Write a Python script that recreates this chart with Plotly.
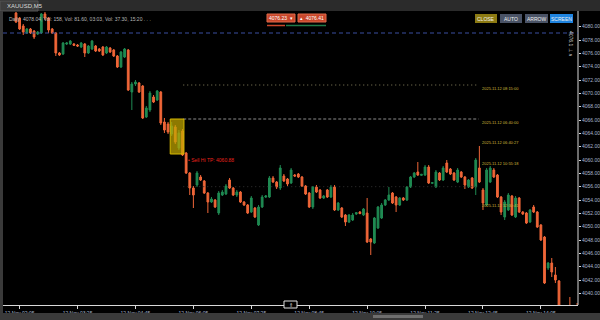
import plotly.graph_objects as go

# ---------------- data (XAUUSD, M5) ----------------
opens = [4082.05, 4081.3, 4080.1, 4079.05, 4079.65, 4079.35, 4078.9, 4079.05, 4081.9, 4081.3,
         4079.65, 4079.05, 4076.05, 4075.9, 4077.4, 4077.4, 4077.4, 4077.25, 4076.95, 4077.4,
         4076.05, 4076.65, 4077.1, 4076.65, 4076.95, 4076.05, 4076.8, 4076.5, 4075.6, 4073.95,
         4075.45, 4076.5, 4070.2, 4071.4, 4071.55, 4071.1, 4066.45, 4067.5, 4069.45, 4069.0,
         4070.2, 4065.7, 4065.4, 4063.9, 4064.95, 4061.8, 4064.35, 4061.05, 4058.05, 4055.8,
         4056.25, 4057.45, 4056.85, 4055.05, 4053.7, 4054.0, 4052.05, 4054.75, 4054.9, 4057.0,
         4055.8, 4054.75, 4055.2, 4053.7, 4053.25, 4052.2, 4052.8, 4050.25, 4052.95, 4054.45,
         4054.45, 4057.3, 4056.7, 4055.8, 4057.6, 4057.15, 4056.55, 4057.75, 4057.9, 4057.45,
         4056.1, 4055.05, 4052.95, 4055.95, 4055.5, 4054.3, 4055.5, 4054.45, 4055.95, 4052.5,
         4052.8, 4051.75, 4050.7, 4051.0, 4051.9, 4052.2, 4051.75, 4052.05, 4048.15, 4047.55,
         4049.8, 4051.3, 4053.25, 4054.0, 4055.05, 4054.45, 4053.25, 4054.3, 4054.0, 4055.95,
         4057.45, 4058.2, 4057.7, 4057.75, 4058.95, 4056.5, 4055.95, 4058.05, 4057.0, 4059.55,
         4058.65, 4058.05, 4056.7, 4058.2, 4057.45, 4055.95, 4057.3, 4055.95, 4058.8, 4055.5,
         4053.25, 4056.7, 4058.5, 4057.75, 4054.45, 4051.45, 4052.5, 4054.6, 4051.45, 4054.3,
         4052.2, 4052.05, 4050.7, 4052.95, 4052.2, 4050.25, 4048.45, 4043.8, 4044.55, 4042.75,
         4041.85, 4037.2, 4036.3, 4037.5, 4036.3, 4036.9]

highs = [4082.2, 4081.45, 4080.4, 4079.8, 4079.8, 4079.5, 4079.35, 4082.05, 4082.2, 4081.45,
         4079.8, 4079.2, 4076.2, 4077.7, 4077.7, 4078.0, 4077.55, 4077.4, 4077.7, 4077.55,
         4077.25, 4078.0, 4077.25, 4076.8, 4077.1, 4077.1, 4076.95, 4076.65, 4075.75, 4076.35,
         4076.8, 4076.65, 4071.7, 4072.0, 4071.7, 4071.25, 4068.1, 4070.35, 4069.75, 4070.5,
         4070.35, 4066.3, 4065.7, 4065.7, 4065.25, 4064.5, 4064.65, 4061.2, 4058.2, 4056.1,
         4058.35, 4057.75, 4057.0, 4055.2, 4054.45, 4054.15, 4055.35, 4055.5, 4056.4, 4057.3,
         4055.95, 4055.5, 4055.35, 4053.85, 4053.4, 4054.6, 4052.95, 4053.25, 4054.75, 4054.75,
         4057.6, 4057.6, 4056.85, 4059.25, 4057.9, 4057.3, 4058.8, 4057.9, 4058.05, 4057.6,
         4056.25, 4055.2, 4056.1, 4056.25, 4055.65, 4054.75, 4055.65, 4056.25, 4056.25, 4053.7,
         4052.95, 4051.9, 4051.9, 4052.05, 4052.2, 4052.35, 4052.8, 4054.3, 4048.3, 4051.45,
         4053.1, 4053.55, 4054.15, 4055.95, 4055.2, 4054.6, 4054.45, 4054.45, 4056.1, 4057.6,
         4058.2, 4059.7, 4057.9, 4059.25, 4059.25, 4056.7, 4058.5, 4058.2, 4059.1, 4060.0,
         4058.8, 4058.2, 4058.8, 4058.35, 4057.6, 4057.15, 4057.45, 4060.3, 4062.1, 4055.8,
         4058.8, 4059.1, 4058.8, 4057.9, 4054.6, 4054.0, 4055.05, 4054.75, 4054.6, 4054.45,
         4052.35, 4052.2, 4052.65, 4053.25, 4052.35, 4050.4, 4048.6, 4044.7, 4045.3, 4043.95,
         4042.0, 4037.35, 4037.5, 4039.45, 4037.2, 4038.55]

lows = [4080.55, 4079.5, 4078.75, 4078.9, 4078.9, 4078.15, 4078.75, 4078.9, 4081.0, 4079.05,
        4078.9, 4075.6, 4075.6, 4075.75, 4077.25, 4077.25, 4077.1, 4076.95, 4076.8, 4075.45,
        4075.9, 4076.5, 4076.2, 4076.2, 4075.6, 4075.9, 4076.05, 4075.45, 4073.8, 4073.8,
        4075.3, 4070.35, 4067.5, 4071.1, 4070.05, 4066.15, 4066.3, 4067.2, 4068.55, 4068.85,
        4065.25, 4064.05, 4063.9, 4063.6, 4062.4, 4061.5, 4060.6, 4057.9, 4054.75, 4052.8,
        4055.95, 4056.85, 4054.9, 4052.05, 4053.55, 4052.8, 4051.75, 4054.6, 4054.75, 4055.65,
        4054.6, 4054.45, 4053.55, 4053.1, 4051.9, 4052.05, 4051.3, 4050.1, 4052.8, 4054.3,
        4054.3, 4056.55, 4055.65, 4055.5, 4056.7, 4056.1, 4056.4, 4057.45, 4057.3, 4055.95,
        4054.75, 4052.8, 4052.65, 4055.05, 4054.15, 4054.15, 4054.3, 4054.3, 4052.35, 4052.35,
        4051.3, 4050.1, 4050.55, 4050.85, 4051.75, 4051.9, 4051.6, 4047.55, 4045.75, 4047.4,
        4049.65, 4051.15, 4053.1, 4053.85, 4053.4, 4052.2, 4053.1, 4053.85, 4053.85, 4055.8,
        4057.3, 4057.6, 4057.6, 4057.6, 4056.4, 4056.4, 4055.8, 4056.85, 4056.85, 4058.05,
        4057.75, 4056.85, 4056.55, 4057.3, 4055.65, 4055.8, 4055.65, 4054.75, 4056.55, 4052.5,
        4053.1, 4056.55, 4057.3, 4054.3, 4051.75, 4051.0, 4052.35, 4051.6, 4051.3, 4052.05,
        4051.75, 4050.4, 4050.55, 4052.05, 4049.8, 4047.85, 4041.4, 4043.5, 4042.45, 4041.55,
        4037.2, 4035.7, 4034.8, 4035.25, 4034.2, 4034.5]

closes = [4080.7, 4079.65, 4079.2, 4079.65, 4079.05, 4078.45, 4079.2, 4081.9, 4081.3, 4079.5,
          4079.05, 4076.05, 4075.75, 4077.55, 4077.55, 4077.85, 4077.2, 4077.1, 4077.55, 4076.05,
          4077.1, 4077.85, 4076.35, 4076.35, 4075.75, 4076.95, 4076.2, 4075.6, 4073.95, 4076.2,
          4076.65, 4070.5, 4071.4, 4071.7, 4070.2, 4066.3, 4067.8, 4070.05, 4068.7, 4070.35,
          4065.55, 4064.5, 4064.2, 4065.1, 4062.7, 4064.05, 4060.75, 4058.05, 4055.8, 4054.75,
          4058.05, 4057.0, 4055.05, 4053.7, 4054.15, 4052.95, 4055.05, 4055.2, 4056.1, 4055.8,
          4054.75, 4055.2, 4053.7, 4053.25, 4052.05, 4054.3, 4051.45, 4052.95, 4054.45, 4054.6,
          4057.3, 4056.7, 4055.95, 4058.8, 4056.85, 4056.4, 4058.5, 4057.6, 4057.45, 4056.1,
          4054.9, 4052.95, 4055.95, 4055.2, 4054.3, 4054.6, 4054.45, 4055.95, 4052.5, 4053.55,
          4051.45, 4050.7, 4051.75, 4051.75, 4052.1, 4051.95, 4052.65, 4047.7, 4047.7, 4051.3,
          4052.95, 4053.25, 4054.0, 4054.75, 4053.55, 4053.25, 4054.3, 4054.0, 4055.95, 4057.45,
          4058.05, 4057.75, 4057.85, 4058.95, 4056.55, 4056.6, 4058.2, 4057.0, 4058.8, 4058.2,
          4057.9, 4057.0, 4058.5, 4057.45, 4056.25, 4057.0, 4055.8, 4060.0, 4056.7, 4053.55,
          4058.5, 4058.8, 4057.45, 4054.45, 4052.2, 4053.7, 4054.75, 4051.75, 4054.3, 4052.2,
          4051.9, 4050.55, 4052.5, 4052.2, 4049.95, 4048.0, 4041.55, 4044.55, 4043.2, 4042.0,
          4037.5, 4036.0, 4035.1, 4035.7, 4034.5, 4034.8]

bar_index = list(range(len(opens)))

x_tick_index = [1, 17, 33, 49, 65, 81, 97, 113, 129, 145]
x_tick_text = ["12 Nov 02:05", "12 Nov 03:25", "12 Nov 04:45", "12 Nov 06:05", "12 Nov 07:25",
               "12 Nov 08:45", "12 Nov 10:05", "12 Nov 11:25", "12 Nov 12:45", "12 Nov 14:05"]

y_tick_vals = [4040, 4042, 4044, 4046, 4048, 4050, 4052, 4054, 4056, 4058, 4060,
               4062, 4064, 4066, 4068, 4070, 4072, 4074, 4076, 4078, 4080]
y_tick_text = ["%.2f" % v for v in y_tick_vals]

level_blue = 4079.05          # dashed blue line
level_lines = [4071.25, 4066.15, 4056.0]
level_label_prices = [4070.7, 4065.6, 4062.6, 4059.45, 4053.15]
level_label_text = ["2025.11.12 08:15:00", "2025.11.12 06:40:00", "2025.11.12 06:40:27",
                    "2025.11.12 10:55:18", "2025.11.12 12:30:41"]
zone_x = [42.6, 46.4]
zone_y = [4060.9, 4066.15]
sell_label_price = 4060.0
sell_label_text = "\u2022 Sell Hi TP: 4060.88"

# ---------------- layout geometry ----------------
W, H = 600, 320
ML, MR, MT, MB = 3, 22, 12, 15
PW, PH = W - ML - MR, H - MT - MB


def fx(px):
    return (px - ML) / PW


def fy(py):
    return (H - MB - py) / PH


UP = "#1f8a52"
DN = "#ef6638"
FONT = "Liberation Sans"

fig = go.Figure()
fig.add_trace(go.Candlestick(
    x=bar_index, open=opens, high=highs, low=lows, close=closes,
    increasing=dict(line=dict(color=UP, width=1), fillcolor=UP),
    decreasing=dict(line=dict(color=DN, width=1), fillcolor=DN),
    whiskerwidth=0, hoverinfo="skip", showlegend=False,
))

shapes = []
ann = []

# chrome: top bar, tab, left strip, bottom bar, scrollbar
shapes.append(dict(type="rect", xref="paper", yref="paper", x0=fx(0), x1=fx(600), y0=fy(11), y1=fy(0),
                   fillcolor="#2b2b2b", line=dict(width=0), layer="above"))
shapes.append(dict(type="rect", xref="paper", yref="paper", x0=fx(0), x1=fx(38), y0=fy(11), y1=fy(1),
                   fillcolor="#3d3d3d", line=dict(color="#555555", width=1), layer="above"))
ann.append(dict(xref="paper", yref="paper", x=fx(5), y=fy(6), text="XAUUSD,M5", showarrow=False,
                xanchor="left", yanchor="middle", font=dict(family=FONT, size=6, color="#d8d8d8")))
shapes.append(dict(type="rect", xref="paper", yref="paper", x0=fx(0), x1=fx(3), y0=fy(320), y1=fy(11),
                   fillcolor="#3a3a3a", line=dict(width=0), layer="above"))
shapes.append(dict(type="rect", xref="paper", yref="paper", x0=fx(0), x1=fx(600), y0=fy(320), y1=fy(313),
                   fillcolor="#3a3a3a", line=dict(width=0), layer="above"))
shapes.append(dict(type="rect", xref="paper", yref="paper", x0=fx(373), x1=fx(423), y0=fy(318), y1=fy(315),
                   fillcolor="#6e6e6e", line=dict(width=0), layer="above"))
# right axis vertical line
shapes.append(dict(type="line", xref="paper", yref="paper", x0=fx(578), x1=fx(578), y0=fy(305), y1=fy(11),
                   line=dict(color="#d8d8d8", width=1), layer="above"))

# header text
ann.append(dict(xref="paper", yref="paper", x=fx(7), y=fy(19),
                text="Daily  4078.04, Vol: 158, Vol: 81.60, 03:03, Vol: 37.30, 15:20 . . .",
                showarrow=False, xanchor="left", yanchor="middle",
                font=dict(family=FONT, size=5, color="#b8b8b8")))

# top center buttons
for x0, x1, txt in [(267, 295, "4076.23  \u25be"), (298, 326, "\u25b4  4076.41")]:
    shapes.append(dict(type="rect", xref="paper", yref="paper", x0=fx(x0), x1=fx(x1), y0=fy(22), y1=fy(14),
                       fillcolor="#c9472b", line=dict(color="#e06a4a", width=1), layer="above"))
    ann.append(dict(xref="paper", yref="paper", x=fx((x0 + x1) / 2), y=fy(18), text=txt, showarrow=False,
                    xanchor="center", yanchor="middle", font=dict(family=FONT, size=5, color="#ffffff")))
shapes.append(dict(type="line", xref="paper", yref="paper", x0=fx(267), x1=fx(285), y0=fy(25.5), y1=fy(25.5),
                   line=dict(color="#c9472b", width=1.5), layer="above"))
shapes.append(dict(type="line", xref="paper", yref="paper", x0=fx(286), x1=fx(326), y0=fy(25.5), y1=fy(25.5),
                   line=dict(color="#1f7a48", width=1.5), layer="above"))

# top right buttons
for x0, x1, col, txt in [(475, 497, "#8c7a12", "CLOSE"), (500, 522, "#4a5366", "AUTO"),
                         (525, 548, "#4a5366", "ARROW"), (550, 573, "#1f84e0", "SCREEN")]:
    shapes.append(dict(type="rect", xref="paper", yref="paper", x0=fx(x0), x1=fx(x1), y0=fy(23), y1=fy(14),
                       fillcolor=col, line=dict(width=0), layer="above"))
    ann.append(dict(xref="paper", yref="paper", x=fx((x0 + x1) / 2), y=fy(18.5), text=txt, showarrow=False,
                    xanchor="center", yanchor="middle", font=dict(family=FONT, size=5, color="#f0f0f0")))

# vertical text near right edge
ann.append(dict(xref="paper", yref="paper", x=fx(571), y=fy(44), text="4076.1 \u22a5 \u2227", showarrow=False,
                textangle=90, xanchor="center", yanchor="middle",
                font=dict(family=FONT, size=5, color="#d0d0d0")))

# blue dashed line
shapes.append(dict(type="line", xref="paper", yref="y", x0=0, x1=1, y0=level_blue, y1=level_blue,
                   line=dict(color="#3a4fa0", width=1, dash="4px,3px")))

# dotted level lines
lvl_styles = [("#8a8460", "1px,3px"), ("#8c8c8c", "3px,2px"), ("#333333", "1px,3px")]
for lv, (col, dsh) in zip(level_lines, lvl_styles):
    shapes.append(dict(type="line", xref="x", yref="y", x0=46.2, x1=127.8, y0=lv, y1=lv,
                       line=dict(color=col, width=1, dash=dsh)))
for p, t in zip(level_label_prices, level_label_text):
    ann.append(dict(xref="x", yref="y", x=128.3, y=p, text=t, showarrow=False, xanchor="left",
                    yanchor="middle", font=dict(family=FONT, size=4, color="#d0b83a")))

# yellow zone
shapes.append(dict(type="rect", xref="x", yref="y", x0=zone_x[0], x1=zone_x[1], y0=zone_y[0], y1=zone_y[1],
                   fillcolor="rgba(196,168,0,0.72)", line=dict(color="#d6b800", width=1), layer="above"))

# sell label
ann.append(dict(xref="x", yref="y", x=47.0, y=sell_label_price, text=sell_label_text, showarrow=False,
                xanchor="left", yanchor="middle", font=dict(family=FONT, size=5, color="#e8231c")))

# shift marker box on x axis
shapes.append(dict(type="rect", xref="paper", yref="paper", x0=fx(284), x1=fx(297), y0=fy(308), y1=fy(301),
                   fillcolor="#000000", line=dict(color="#e0e0e0", width=1), layer="above"))
ann.append(dict(xref="paper", yref="paper", x=fx(290.5), y=fy(304.5), text="\u21d1", showarrow=False,
                xanchor="center", yanchor="middle", font=dict(family=FONT, size=5, color="#e0e0e0")))

fig.update_layout(
    width=W, height=H,
    margin=dict(l=ML, r=MR, t=MT, b=MB, pad=0, autoexpand=False),
    paper_bgcolor="#000000", plot_bgcolor="#000000",
    shapes=shapes, annotations=ann, showlegend=False,
    xaxis=dict(range=[-3.59, 155.25], rangeslider=dict(visible=False), showgrid=False, zeroline=False,
               tickmode="array", tickvals=x_tick_index, ticktext=x_tick_text,
               tickfont=dict(family=FONT, size=5, color="#a9b8d0"),
               ticks="outside", ticklen=3, tickcolor="#d8d8d8",
               showline=True, linecolor="#d8d8d8", linewidth=1),
    yaxis=dict(range=[4038.25, 4082.2], side="right", showgrid=False, zeroline=False,
               tickmode="array", tickvals=y_tick_vals, ticktext=y_tick_text,
               tickfont=dict(family=FONT, size=5, color="#a9b8d0"),
               ticks="outside", ticklen=2, tickcolor="#d8d8d8",
               showline=False),
)

fig.write_html("out.html")
